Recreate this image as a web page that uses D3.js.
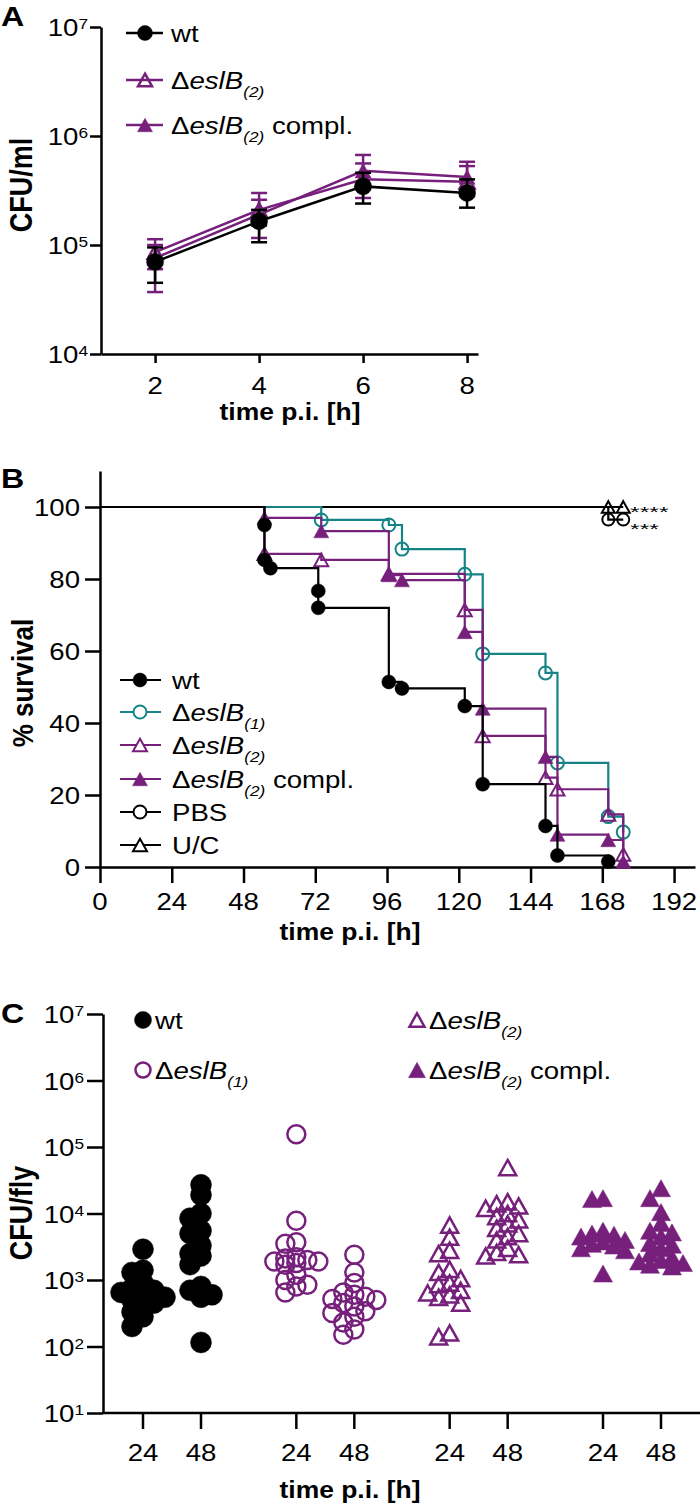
<!DOCTYPE html>
<html><head><meta charset="utf-8">
<script src="https://cdn.jsdelivr.net/npm/d3@7"></script>
<style>
body{margin:0;background:#fff}
svg{display:block;background:#fff}
text{font-family:'Liberation Sans',Arial,Helvetica,sans-serif;fill:#000}
</style></head>
<body>
<svg id="chart" width="700" height="1505"></svg>
<script>
// ---------- DATA ----------
// Panel A: growth (CFU/ml) at hours p.i.
const growthHours = [2, 4, 6, 8];
const wtCfu = [70000, 165000, 345000, 300000];
const wtCfuLow = [45000, 106000, 240000, 220000];
const wtCfuHigh = [95000, 210000, 460000, 400000];
const eslB2Cfu = [86000, 210000, 400000, 380000];
const eslB2CfuLow = [60000, 150000, 270000, 280000];
const eslB2CfuHigh = [113000, 300000, 560000, 530000];
const complCfu = [76000, 190000, 480000, 420000];
const complCfuLow = [37000, 116000, 330000, 300000];
const complCfuHigh = [100000, 260000, 670000, 580000];
const yTicksA = [1e4, 1e5, 1e6, 1e7];

// Panel B: survival (time h, % survival)
const wtSurvT = [0, 55, 55, 57, 73, 73, 96.6, 101, 122, 128, 149, 153, 170];
const wtSurvV = [100, 95, 85.3, 83, 76.7, 72, 51.4, 49.6, 44.7, 23, 11.4, 3.2, 1.5];
const eslB1SurvT = [0, 74, 96.6, 101, 122, 128, 149, 153, 170, 175];
const eslB1SurvV = [100, 96.4, 95, 88.3, 81.3, 59.2, 53.9, 28.9, 14, 9.7];
const eslB2SurvT = [0, 55, 74, 96.6, 122, 128, 149, 153, 170, 175];
const eslB2SurvV = [100, 87, 85.3, 81.4, 71.4, 36.4, 24.8, 21.6, 14.6, 3.5];
const complSurvT = [0, 55, 74, 96.6, 101, 122, 128, 149, 153, 170, 175];
const complSurvV = [100, 97, 93.3, 81.1, 79.7, 65.3, 44, 30.6, 9, 7.5, 1.5];
const pbsSurvT = [0, 170, 175];
const pbsSurvV = [100, 96.5, 96.5];
const ucSurvT = [0, 170, 175];
const ucSurvV = [100, 100, 100];
const xTicksB = [0, 24, 48, 72, 96, 120, 144, 168, 192];
const yTicksB = [0, 20, 40, 60, 80, 100];
const significance = ["****", "***"];

// Panel C: CFU/fly per group and time
const cGroups = ["wt", "eslB1", "eslB2", "compl"];
const cTimes = ["24", "48"];
const wt24 = [2900, 1400, 1300, 900, 750, 700, 650, 600, 550, 500, 450, 400, 330, 280, 200];
const wt48 = [27000, 19000, 10000, 8500, 5500, 5000, 3300, 2500, 2300, 1700, 800, 700, 600, 550, 115];
const eslB1_24 = [155000, 7800, 3700, 3500, 2200, 2100, 2000, 1900, 1900, 1800, 1700, 1200, 1000, 850, 800, 650];
const eslB1_48 = [2400, 1300, 900, 650, 600, 560, 520, 500, 450, 400, 340, 320, 280, 230, 180, 150];
const eslB2_24 = [6700, 4400, 2800, 2500, 1450, 1300, 1050, 900, 850, 700, 640, 600, 550, 450, 160, 140];
const eslB2_48 = [49000, 15000, 14000, 13000, 12000, 10000, 9000, 8000, 7000, 6000, 5000, 4500, 4000, 3000, 2600, 2400, 2300];
const compl24 = [17000, 16500, 5500, 5000, 4800, 4500, 4000, 3800, 3500, 3300, 3000, 2800, 1250];
const compl48 = [24000, 17000, 10500, 7200, 5500, 5200, 4500, 3600, 3400, 3000, 2500, 2200, 2000, 1900, 1800, 1700, 1600];
const yTicksC = [1e1, 1e2, 1e3, 1e4, 1e5, 1e6, 1e7];

// ---------- STYLE / HELPERS ----------
const PURPLE = "#76207c", TEAL = "#168486";
const SX = 1.15;
const svg = d3.select("#chart");

function label(g, x, y, parts, o = {}) {
  const sx = o.sx || SX;
  const t = g.append("text")
    .attr("transform", `translate(${x},${y}) scale(${sx},1)` + (o.rot ? ` rotate(${o.rot})` : ""))
    .attr("font-size", o.size || 24)
    .attr("font-weight", o.bold ? "bold" : null)
    .attr("text-anchor", o.anchor || "start");
  let shift = 0;
  (typeof parts === "string" ? [{t: parts}] : parts).forEach(p => {
    const target = p.sub ? 8 : p.sup ? -7 : 0;
    const s = t.append("tspan").text(p.t).attr("dy", target - shift);
    shift = target;
    if (p.sub || p.sup) s.attr("font-size", 15);
    if (p.i) s.attr("font-style", "italic");
  });
  return t;
}
function shape(type, s) {
  if (type.indexOf("circle") >= 0) {
    const r = s / 2;
    return `M${r},0A${r},${r} 0 1,1 ${-r},0A${r},${r} 0 1,1 ${r},0Z`;
  }
  const w = s, h = s * 0.9;
  return `M0,${-h / 2}L${w / 2},${h / 2}L${-w / 2},${h / 2}Z`;
}
function styleMarker(sel, type, color, sw) {
  const open = type[0] === "o";
  sel.attr("fill", open ? "none" : color).attr("stroke", color)
     .attr("stroke-width", open ? sw : 0.5).attr("stroke-linejoin", "miter");
}
function styleAxis(g) {
  g.selectAll("path,line").attr("stroke", "#000").attr("stroke-width", 2.5);
  g.selectAll("text").remove();
}
const supLabel = v => [{t: "10"}, {t: String(Math.round(Math.log10(v))), sup: true}];
const eslB = (n, compl) => {
  const a = [{t: "Δ"}, {t: "eslB", i: true}, {t: `(${n})`, i: true, sub: true}];
  if (compl) a.push({t: " compl."});
  return a;
};

// ---------- PANEL A ----------
(function () {
  const g = svg.append("g");
  const x = d3.scaleLinear().domain([0.96, 8.21]).range([101, 478]);
  const y = d3.scaleLog().domain([1e4, 1e7]).range([354, 27]);

  g.append("g").attr("transform", "translate(0,354)")
    .call(d3.axisBottom(x).tickValues(growthHours).tickSize(9).tickSizeOuter(0)).call(styleAxis);
  g.append("g").attr("transform", "translate(101,0)")
    .call(d3.axisLeft(y).tickValues(yTicksA).tickSize(11).tickSizeOuter(0)).call(styleAxis);

  growthHours.forEach(v => label(g, x(v), 394, String(v), {anchor: "middle"}));
  yTicksA.forEach(v => label(g, 88, y(v) + 9, supLabel(v), {anchor: "end"}));
  label(g, 290, 420, "time p.i. [h]", {bold: true, size: 23, anchor: "middle"});
  label(g, 32, 185, "CFU/ml", {bold: true, size: 27, anchor: "middle", rot: -90});
  label(g, 1, 26, "A", {bold: true, size: 28});

  const series = [
    {m: complCfu, lo: complCfuLow, hi: complCfuHigh, color: PURPLE, type: "tri", size: 16},
    {m: eslB2Cfu, lo: eslB2CfuLow, hi: eslB2CfuHigh, color: PURPLE, type: "otri", size: 15},
    {m: wtCfu, lo: wtCfuLow, hi: wtCfuHigh, color: "#000", type: "circle", size: 17}
  ];
  const line = d3.line().x(d => x(d.t)).y(d => y(d.v));
  series.forEach(s => {
    const pts = growthHours.map((t, i) => ({t, v: s.m[i], lo: s.lo[i], hi: s.hi[i]}));
    const sg = g.append("g");
    sg.append("path").datum(pts).attr("d", line).attr("fill", "none")
      .attr("stroke", s.color).attr("stroke-width", 2.5);
    const eb = sg.selectAll("g.eb").data(pts).join("g").attr("stroke", s.color).attr("stroke-width", 2.5);
    eb.append("line").attr("x1", d => x(d.t)).attr("x2", d => x(d.t)).attr("y1", d => y(d.lo)).attr("y2", d => y(d.hi));
    eb.append("line").attr("x1", d => x(d.t) - 8).attr("x2", d => x(d.t) + 8).attr("y1", d => y(d.lo)).attr("y2", d => y(d.lo));
    eb.append("line").attr("x1", d => x(d.t) - 8).attr("x2", d => x(d.t) + 8).attr("y1", d => y(d.hi)).attr("y2", d => y(d.hi));
    sg.selectAll("path.mk").data(pts).join("path").attr("class", "mk")
      .attr("transform", d => `translate(${x(d.t)},${y(d.v)})`).attr("d", shape(s.type, s.size))
      .call(sel => styleMarker(sel, s.type, s.color, 2.5));
  });

  const leg = [
    {lab: [{t: "wt"}], color: "#000", type: "circle", size: 15},
    {lab: eslB(2), color: PURPLE, type: "otri", size: 14},
    {lab: eslB(2, true), color: PURPLE, type: "tri", size: 15}
  ];
  const rows = [33, 80, 125];
  leg.forEach((l, i) => {
    const ry = rows[i];
    g.append("line").attr("x1", 126).attr("x2", 163).attr("y1", ry).attr("y2", ry)
      .attr("stroke", l.color).attr("stroke-width", 2.5);
    g.append("path").attr("transform", `translate(145,${ry})`).attr("d", shape(l.type, l.size))
      .call(sel => styleMarker(sel, l.type, l.color, 2.5));
    label(g, 171, ry + 9, l.lab);
  });
})();

// ---------- PANEL B ----------
(function () {
  const g = svg.append("g");
  const x = d3.scaleLinear().domain([0, 199]).range([100, 695]);
  const y = d3.scaleLinear().domain([0, 110]).range([867, 471]);

  g.append("g").attr("transform", "translate(0,867)")
    .call(d3.axisBottom(x).tickValues(xTicksB).tickSize(16).tickSizeOuter(0)).call(styleAxis);
  g.append("g").attr("transform", "translate(100,0)")
    .call(d3.axisLeft(y).tickValues(yTicksB).tickSize(15).tickSizeOuter(0)).call(styleAxis);

  xTicksB.forEach(v => label(g, x(v), 910, String(v), {anchor: "middle"}));
  yTicksB.forEach(v => label(g, 80, y(v) + 9, String(v), {anchor: "end"}));
  label(g, 350, 940, "time p.i. [h]", {bold: true, size: 23, anchor: "middle"});
  label(g, 33, 683, "% survival", {bold: true, size: 26, anchor: "middle", rot: -90});
  label(g, 1, 488, "B", {bold: true, size: 28});

  const curves = [
    {T: ucSurvT, V: ucSurvV, color: "#000", type: "otri", size: 13},
    {T: pbsSurvT, V: pbsSurvV, color: "#000", type: "ocircle", size: 12},
    {T: eslB1SurvT, V: eslB1SurvV, color: TEAL, type: "ocircle", size: 13},
    {T: eslB2SurvT, V: eslB2SurvV, color: PURPLE, type: "otri", size: 14},
    {T: complSurvT, V: complSurvV, color: PURPLE, type: "tri", size: 15},
    {T: wtSurvT, V: wtSurvV, color: "#000", type: "circle", size: 14}
  ];
  const line = d3.line().curve(d3.curveStepAfter).x(d => x(d.t)).y(d => y(d.v));
  curves.forEach(c => {
    const pts = c.T.map((t, i) => ({t, v: c.V[i]}));
    const sg = g.append("g");
    sg.append("path").datum(pts).attr("d", line).attr("fill", "none")
      .attr("stroke", c.color).attr("stroke-width", 2.2);
    sg.selectAll("path.mk").data(pts.slice(1)).join("path").attr("class", "mk")
      .attr("transform", d => `translate(${x(d.t)},${y(d.v)})`).attr("d", shape(c.type, c.size))
      .call(sel => styleMarker(sel, c.type, c.color, 2));
  });

  // significance stars: two rows, sized so their text boxes do not overlap
  significance.forEach((s, i) => label(g, 630, 516.5 + i * 17.5, s, {size: 15, sx: 1.65}));

  const leg = [
    {lab: [{t: "wt"}], color: "#000", type: "circle", size: 14},
    {lab: eslB(1), color: TEAL, type: "ocircle", size: 13},
    {lab: eslB(2), color: PURPLE, type: "otri", size: 14},
    {lab: eslB(2, true), color: PURPLE, type: "tri", size: 15},
    {lab: [{t: "PBS"}], color: "#000", type: "ocircle", size: 13},
    {lab: [{t: "U/C"}], color: "#000", type: "otri", size: 14}
  ];
  const rows = [680, 712, 745, 779, 812, 845];
  leg.forEach((l, i) => {
    const ry = rows[i];
    g.append("line").attr("x1", 120).attr("x2", 161).attr("y1", ry).attr("y2", ry)
      .attr("stroke", l.color).attr("stroke-width", 2.2);
    g.append("path").attr("transform", `translate(140,${ry})`).attr("d", shape(l.type, l.size))
      .call(sel => styleMarker(sel, l.type, l.color, 2))
      .attr("fill", l.type[0] === "o" ? "#fff" : l.color);
    label(g, 172, ry + 9, l.lab);
  });
})();

// ---------- PANEL C ----------
(function () {
  const g = svg.append("g");
  const y = d3.scaleLog().domain([10, 1e7]).range([1413, 1014]);
  const xg = d3.scalePoint().domain(cGroups).range([172, 632]);
  const xt = d3.scalePoint().domain(cTimes).range([-29, 29]);
  const colX = (gr, t) => xg(gr) + xt(t);

  g.append("g").attr("transform", "translate(103,0)")
    .call(d3.axisLeft(y).tickValues(yTicksC).tickSize(16).tickSizeOuter(0)).call(styleAxis);
  g.append("line").attr("x1", 103).attr("x2", 700).attr("y1", 1413).attr("y2", 1413)
    .attr("stroke", "#000").attr("stroke-width", 2.5);
  const cols = [];
  cGroups.forEach(gr => cTimes.forEach(t => cols.push({gr, t})));
  g.selectAll("line.xt").data(cols).join("line").attr("class", "xt")
    .attr("x1", d => colX(d.gr, d.t)).attr("x2", d => colX(d.gr, d.t))
    .attr("y1", 1413).attr("y2", 1429).attr("stroke", "#000").attr("stroke-width", 2.5);
  cols.forEach(d => label(g, colX(d.gr, d.t), 1461, d.t, {anchor: "middle"}));
  yTicksC.forEach(v => label(g, 84, y(v) + 9, supLabel(v), {anchor: "end"}));
  label(g, 350, 1498, "time p.i. [h]", {bold: true, size: 23, anchor: "middle"});
  label(g, 32, 1213, "CFU/fly", {bold: true, size: 27, anchor: "middle", rot: -90});
  label(g, 1, 1023, "C", {bold: true, size: 28});

  function swarm(vals, cx, step, minD) {
    const pts = vals.map(v => ({v, y: y(v)})).sort((a, b) => a.y - b.y);
    const placed = [];
    const order = [0, -1, 1, -2, 2];
    pts.forEach(p => {
      let best = null, bestD = -1;
      for (const k of order) {
        const xx = cx + k * step;
        let md = Infinity;
        placed.forEach(q => { md = Math.min(md, Math.hypot(q.x - xx, q.y - p.y)); });
        if (md >= minD) { best = xx; break; }
        if (md > bestD) { bestD = md; best = xx; }
      }
      p.x = best; placed.push(p);
    });
    return pts;
  }

  const sets = [
    {gr: "wt", t: "24", vals: wt24, color: "#000", type: "circle", size: 21},
    {gr: "wt", t: "48", vals: wt48, color: "#000", type: "circle", size: 21},
    {gr: "eslB1", t: "24", vals: eslB1_24, color: PURPLE, type: "ocircle", size: 18},
    {gr: "eslB1", t: "48", vals: eslB1_48, color: PURPLE, type: "ocircle", size: 18},
    {gr: "eslB2", t: "24", vals: eslB2_24, color: PURPLE, type: "otri", size: 17},
    {gr: "eslB2", t: "48", vals: eslB2_48, color: PURPLE, type: "otri", size: 17},
    {gr: "compl", t: "24", vals: compl24, color: PURPLE, type: "tri", size: 19},
    {gr: "compl", t: "48", vals: compl48, color: PURPLE, type: "tri", size: 19}
  ];
  sets.forEach(s => {
    const pts = swarm(s.vals, colX(s.gr, s.t), 11, 10);
    g.append("g").selectAll("path").data(pts).join("path")
      .attr("transform", d => `translate(${d.x},${d.y})`).attr("d", shape(s.type, s.size))
      .call(sel => styleMarker(sel, s.type, s.color, 2.5));
  });

  const leg = [
    {lab: [{t: "wt"}], color: "#000", type: "circle", size: 17, x: 143, y: 1020},
    {lab: eslB(1), color: PURPLE, type: "ocircle", size: 15, x: 143, y: 1070},
    {lab: eslB(2), color: PURPLE, type: "otri", size: 15, x: 417, y: 1020},
    {lab: eslB(2, true), color: PURPLE, type: "tri", size: 17, x: 417, y: 1070}
  ];
  leg.forEach(l => {
    g.append("path").attr("transform", `translate(${l.x},${l.y})`).attr("d", shape(l.type, l.size))
      .call(sel => styleMarker(sel, l.type, l.color, 2.5));
    label(g, l.x + 12, l.y + 9, l.lab);
  });
})();
</script>
</body></html>
